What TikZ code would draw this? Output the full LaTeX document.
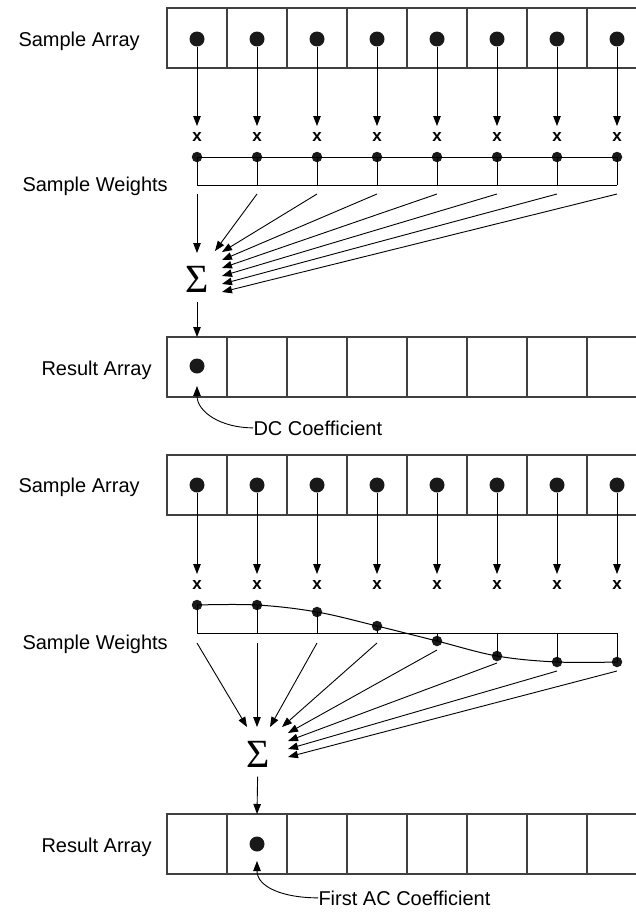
\documentclass[tikz,border=0pt]{standalone}
\usepackage{fontspec}
\setmainfont{Liberation Sans}
\newfontfamily\sigmafont{Liberation Serif}
\usetikzlibrary{arrows.meta}

\begin{document}
\begin{tikzpicture}[x=1pt, y=-1pt, line width=1pt,
    cell/.style={draw=black!75, line width=1.1pt, minimum size=60pt, inner sep=0pt, outer sep=0pt},
    bigdot/.style={circle, fill=black!90, inner sep=0pt, minimum size=15pt},
    wdot/.style={circle, fill=black!90, inner sep=0pt, minimum size=10.5pt},
    times/.style={font=\bfseries\fontsize{17}{17}\selectfont, inner xsep=0pt, inner ysep=6pt},
    lbl/.style={font=\fontsize{20}{24}\selectfont, inner sep=0pt, anchor=base west},
    sum/.style={font=\sigmafont\fontsize{40}{40}\selectfont, inner sep=1pt},
    arr/.style={-{Triangle[length=10pt,width=7.5pt]}, line width=0.9pt}]
    \clip (0,0) rectangle (636,918);
    % first panel: DC coefficient
    \node[lbl] (sarr1) at (18,46) {Sample Array};
    \node[lbl] (swt1) at (22,191) {Sample Weights};
    \node[lbl] (rarr1) at (41,375) {Result Array};
    \foreach \i in {0,...,7} {
        \node[cell] (sa1\i) at (197+60*\i,38) {};
        \node[bigdot] (sd1\i) at (197+60*\i,39) {};
        \node[times] (x1\i) at (197+60*\i,137) {x};
        \draw[arr] (sd1\i) -- (x1\i);
        \node[wdot] (wd1\i) at (197+60*\i,157) {};
        \coordinate (wa1\i) at (197+60*\i,185);
        \coordinate (ws1\i) at (197+60*\i,194);
        \draw (wd1\i.center) -- (wa1\i);
        \node[cell] (ra1\i) at (197+60*\i,367) {};
    }
    \draw (wd10.center) -- (wd17.center);
    \draw (wa10) -- (wa17);
    \node[sum] (sig1) at (197,279) {Σ};
    % arrow ends round the sum
    \coordinate (tip10) at (197,253);
    \coordinate (tip11) at (215,251);
    \foreach \i in {2,...,7}
        \coordinate (tip1\i) at (222,252+8*\i-16);
    \foreach \i in {0,...,7}
        \draw[arr] (ws1\i) -- (tip1\i);
    \draw[arr, shorten <=8pt] (sig1) -- (ra10.north);
    \node[bigdot] (rd1) at (197,366) {};
    \node[lbl] (dc) at (253,435) {DC Coefficient};
    \coordinate (dctip) at (197,386);
    \draw[arr] (dc.west) .. controls +(-32,0) and +(0,26) .. (dctip);
    % second panel: first AC coefficient
    \node[lbl] (sarr2) at (18,492) {Sample Array};
    \node[lbl] (swt2) at (22,649) {Sample Weights};
    \node[lbl] (rarr2) at (41,852) {Result Array};
    \foreach \i/\wy/\sy in {0/605/643,1/605/643,2/612/643,3/626/643,4/641/650,5/656/663,6/662/671,7/662/671} {
        \node[cell] (sa2\i) at (197+60*\i,485) {};
        \node[bigdot] (sd2\i) at (197+60*\i,485) {};
        \node[times] (x2\i) at (197+60*\i,585) {x};
        \draw[arr] (sd2\i) -- (x2\i);
        \node[wdot] (wd2\i) at (197+60*\i,\wy) {};
        \coordinate (wa2\i) at (197+60*\i,633);
        \coordinate (ws2\i) at (197+60*\i,\sy);
        \draw (wd2\i.center) -- (wa2\i);
        \node[cell] (ra2\i) at (197+60*\i,844) {};
    }
    \draw (wa20) -- (wa27);
    \draw plot[smooth, tension=0.6] coordinates {(wd20.center) (wd21.center) (wd22.center) (wd23.center)
        (wd24.center) (wd25.center) (wd26.center) (wd27.center)};
    \node[sum] (sig2) at (258,754) {Σ};
    % arrow ends round the sum
    \coordinate (tip20) at (247,727);
    \coordinate (tip21) at (257,727);
    \coordinate (tip22) at (270,727);
    \coordinate (tip23) at (282,727);
    \foreach \i in {4,...,7}
        \coordinate (tip2\i) at (288,733+8*\i-32);
    \foreach \i in {0,...,7}
        \draw[arr] (ws2\i) -- (tip2\i);
    \draw[arr, shorten <=8pt] (sig2) -- (ra21.north);
    \node[bigdot] (rd2) at (257,844) {};
    \node[lbl] (ac) at (318,905) {First AC Coefficient};
    \coordinate (actip) at (257,861);
    \draw[arr] (ac.west) .. controls +(-35,0) and +(0,26) .. (actip);
\end{tikzpicture}
\end{document}
